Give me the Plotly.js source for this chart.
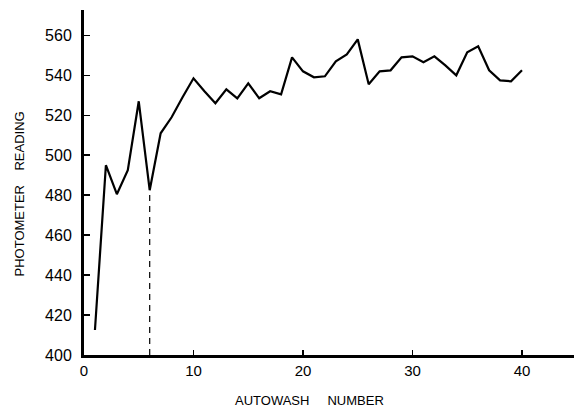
<!DOCTYPE html>
<html>
<head>
<meta charset="utf-8">
<script src="https://cdn.plot.ly/plotly-3.0.1.min.js"></script>
<style>html,body{margin:0;padding:0;background:#fff;}#chart{width:575px;height:407px;}</style>
</head>
<body>
<div id="chart"></div>
<script>
var autowashNumber = [1,2,3,4,5,6,7,8,9,10,11,12,13,14,15,16,17,18,19,20,21,22,23,24,25,26,27,28,29,30,31,32,33,34,35,36,37,38,39,40];
var photometerReading = [412.5,495,480.5,492.5,527,482.5,511,519,529,538.5,532,526,533,528.5,536,528.5,532,530.5,549,542,539,539.5,547,550.5,558,535.5,542,542.5,549,549.5,546.5,549.5,545,540,551.5,554.5,542.5,537.5,537,542.5];
var markerWash = 6;
var xTickVals = [0,10,20,30,40];
var yTickVals = [400,420,440,460,480,500,520,540,560];
var xTitle = "AUTOWASH\u00A0\u00A0\u00A0\u00A0\u00A0NUMBER";
var yTitle = "PHOTOMETER\u00A0\u00A0\u00A0\u00A0READING";

var markerValue = photometerReading[autowashNumber.indexOf(markerWash)];

var traces = [
  {
    x: autowashNumber, y: photometerReading, type: 'scatter', mode: 'lines',
    line: {color: '#000', width: 2.2}, hoverinfo: 'skip', showlegend: false
  },
  {
    x: [markerWash, markerWash], y: [yTickVals[0], markerValue], type: 'scatter', mode: 'lines',
    line: {color: '#000', width: 1.2, dash: '6px,5px'}, hoverinfo: 'skip', showlegend: false
  }
];

var titleFont = {family: 'Liberation Sans, Arial, sans-serif', size: 13, color: '#000'};

var layout = {
  width: 575, height: 407,
  margin: {l: 84, r: 1, t: 10, b: 52, pad: 0},
  paper_bgcolor: '#fff', plot_bgcolor: '#fff',
  showlegend: false,
  xaxis: {
    range: [0, 44.75], tickvals: xTickVals, ticktext: xTickVals.map(String),
    ticks: 'inside', ticklen: 5, tickwidth: 1.5, tickcolor: '#000',
    showline: true, linecolor: '#000', linewidth: 2.5,
    showgrid: false, zeroline: false,
    tickfont: {family: 'Liberation Sans, Arial, sans-serif', size: 15, color: '#000'}
  },
  yaxis: {
    range: [400, 572.7], tickvals: yTickVals, ticktext: yTickVals.map(String),
    ticks: 'inside', ticklen: 6, tickwidth: 1.5, tickcolor: '#000',
    showline: true, linecolor: '#000', linewidth: 3,
    showgrid: false, zeroline: false, ticklabelstandoff: 6,
    tickfont: {family: 'Liberation Sans, Arial, sans-serif', size: 16, color: '#000'}
  },
  annotations: [
    {text: xTitle, xref: 'x', yref: 'paper', x: 20.6, y: 0, yshift: -45, xanchor: 'center', yanchor: 'middle', showarrow: false, font: titleFont},
    {text: yTitle, xref: 'paper', yref: 'paper', x: 0, xshift: -65, y: 0.5, yshift: -12, textangle: -90, xanchor: 'center', yanchor: 'middle', showarrow: false, font: titleFont}
  ]
};

Plotly.newPlot('chart', traces, layout, {displayModeBar: false, staticPlot: true});
</script>
</body>
</html>
